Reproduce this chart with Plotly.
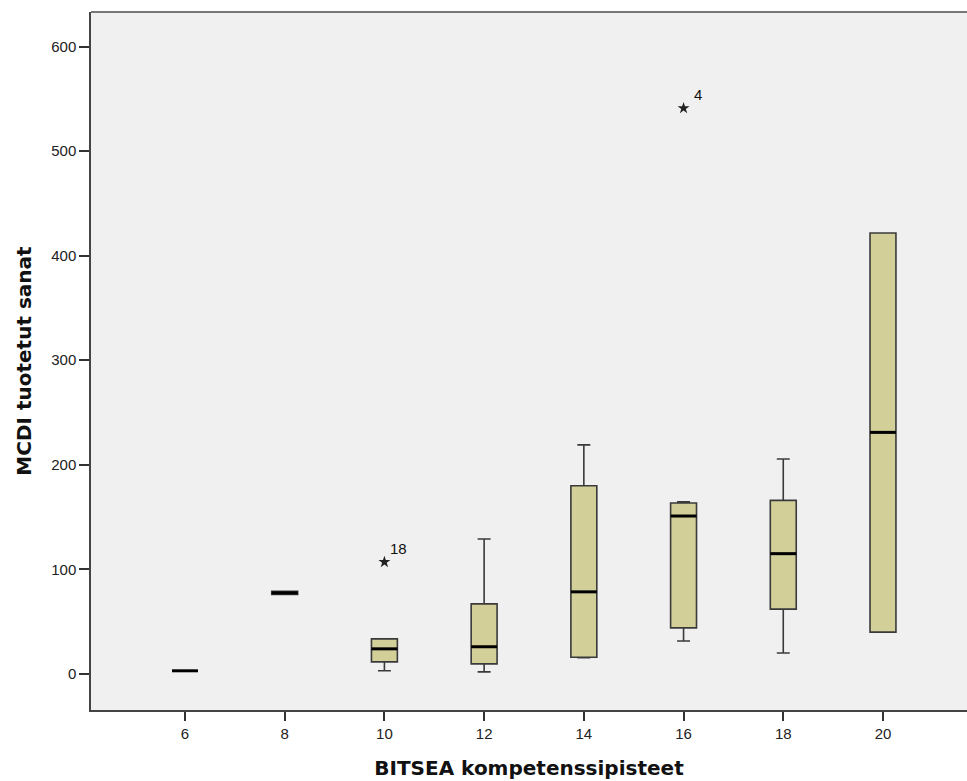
import plotly.graph_objects as go

categories = [6, 8, 10, 12, 14, 16, 18, 20]
q1 = [3, 76, 11.5, 9.6, 16, 44, 62, 40]
median = [3, 77.5, 24, 26, 78.5, 151, 115, 231]
q3 = [3, 79, 33.5, 67, 180, 163.5, 166, 421.6]
lower_whisker = [3, 76, 3, 2, 15.5, 31.5, 20, 40]
upper_whisker = [3, 79, 33.5, 129, 219, 164.5, 205.5, 421.6]
outlier_x = [10, 16]
outlier_y = [107, 541]
outlier_labels = ["18", "4"]

box_width = 0.52
fill = "#D3CF98"
edge = "#3a3a3a"

fig = go.Figure()
fig.add_trace(go.Box(
    x=categories, q1=q1, median=median, q3=q3,
    lowerfence=lower_whisker, upperfence=upper_whisker,
    width=box_width, whiskerwidth=0.5,
    fillcolor=fill, line=dict(color=edge, width=1.6),
    boxpoints=False, hoverinfo="skip", showlegend=False,
))

# thick median lines
mx, my = [], []
for c, m in zip(categories, median):
    mx += [c - box_width / 2, c + box_width / 2, None]
    my += [m, m, None]
fig.add_trace(go.Scatter(x=mx, y=my, mode="lines",
                         line=dict(color="black", width=3),
                         showlegend=False, hoverinfo="skip"))

fig.add_trace(go.Scatter(x=outlier_x, y=outlier_y, mode="markers",
                         marker=dict(symbol="star", size=9, color="#222"),
                         showlegend=False, hoverinfo="skip"))
for xv, yv, lab in zip(outlier_x, outlier_y, outlier_labels):
    fig.add_annotation(x=xv, y=yv, text=lab, showarrow=False,
                       xshift=14, yshift=14,
                       font=dict(family="Liberation Sans, Arial", size=15, color="#111"))

# top border
fig.add_shape(type="line", xref="paper", yref="paper", x0=0, x1=1, y0=1, y1=1,
              line=dict(color="#777", width=2))

fig.update_layout(
    width=967, height=781,
    margin=dict(l=91, r=0, t=12, b=71),
    paper_bgcolor="white", plot_bgcolor="#F0F0F0",
    font=dict(family="Liberation Sans, Arial", size=15, color="#222"),
    xaxis=dict(
        range=[4.115, 21.685], tickmode="array", tickvals=categories,
        ticks="outside", ticklen=9, tickwidth=1.5, tickcolor="#333",
        showline=True, linecolor="#444", linewidth=1.5,
        showgrid=False, zeroline=False, ticklabelstandoff=0,
        tickfont=dict(size=15),
        title=dict(text="<b>BITSEA kompetenssipisteet</b>",
                   font=dict(family="DejaVu Sans", size=20, color="#111"), standoff=20),
    ),
    yaxis=dict(
        range=[-34.5, 633], tickvals=[0, 100, 200, 300, 400, 500, 600],
        ticks="outside", ticklen=10, tickwidth=2, tickcolor="#333",
        showline=True, linecolor="#444", linewidth=1.5,
        showgrid=False, zeroline=False, tickfont=dict(size=15),
        title=dict(text="<b>MCDI tuotetut sanat</b>",
                   font=dict(family="DejaVu Sans", size=20, color="#111"), standoff=14),
    ),
)

fig.write_html("out.html")
